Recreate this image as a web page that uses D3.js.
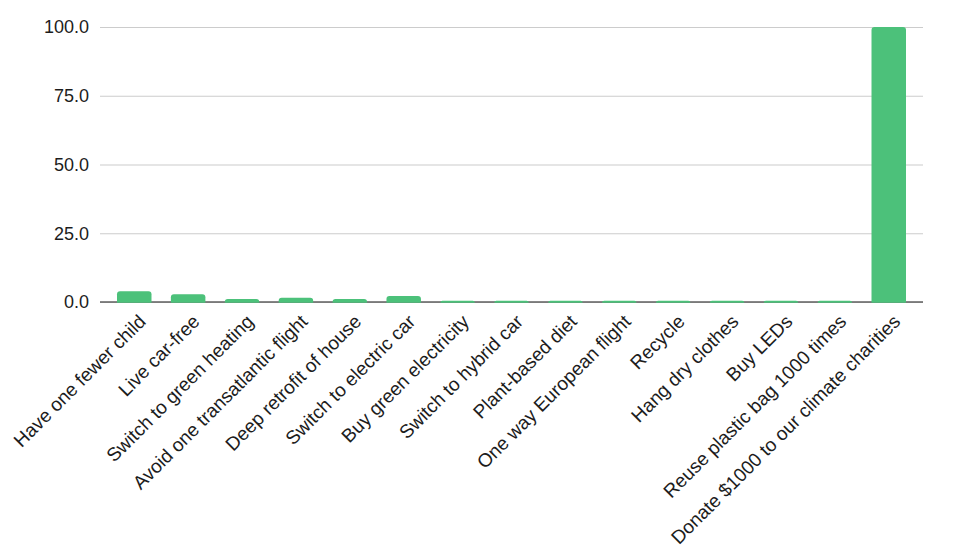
<!DOCTYPE html>
<html>
<head>
<meta charset="utf-8">
<script src="https://cdn.jsdelivr.net/npm/d3@7"></script>
<style>
  body { margin: 0; background: #fff; }
  svg text { font-family: "Liberation Sans", Arial, sans-serif; fill: #1c1c1c; }
</style>
</head>
<body>
<div id="chart"></div>
<script>
var categories = [
  "Have one fewer child",
  "Live car-free",
  "Switch to green heating",
  "Avoid one transatlantic flight",
  "Deep retrofit of house",
  "Switch to electric car",
  "Buy green electricity",
  "Switch to hybrid car",
  "Plant-based diet",
  "One way European flight",
  "Recycle",
  "Hang dry clothes",
  "Buy LEDs",
  "Reuse plastic bag 1000 times",
  "Donate $1000 to our climate charities"
]
var values = [3.6, 2.5, 0.8, 1.3, 0.8, 1.9, 0.2, 0.2, 0.2, 0.2, 0.2, 0.2, 0.2, 0.2, 99.7]
var yTicks = [0, 25, 50, 75, 100]

var width = 980, height = 551
var plot = {left: 100, right: 923, top: 27, bottom: 302}

var svg = d3.select("#chart")
    .append("svg")
    .attr("width", width)
    .attr("height", height)

var x = d3.scaleBand()
    .domain(categories)
    .range([117, 906])
    .paddingInner(0.36)
    .paddingOuter(0)

var y = d3.scaleLinear()
    .domain([0, 100])
    .range([plot.bottom, plot.top])

// gridlines + y labels
var yAxis = svg.append("g")
    .attr("transform", "translate(" + plot.left + ",0)")
    .call(d3.axisLeft(y)
      .tickValues(yTicks)
      .tickSize(-(plot.right - plot.left))
      .tickPadding(11)
      .tickFormat(d3.format(".1f")))

yAxis.select(".domain").remove()
yAxis.selectAll(".tick line").attr("stroke", "#cccccc").attr("stroke-width", 1.2)
yAxis.selectAll(".tick text").style("font-size", "18px").attr("fill", "#1c1c1c")

// baseline (bars are drawn on top of it)
svg.append("line")
    .attr("x1", plot.left)
    .attr("x2", plot.right)
    .attr("y1", y(0))
    .attr("y2", y(0))
    .attr("stroke", "#5f5f5f")
    .attr("stroke-width", 1.6)

// bars with rounded tops
function barPath(d, i) {
  var x0 = x(categories[i]), w = x.bandwidth()
  var y0 = y(0) + 0.8, y1 = y(d) - 0.8
  var r = Math.min(3, (y0 - y1))
  return "M" + x0 + "," + y0 +
    "V" + (y1 + r) +
    "Q" + x0 + "," + y1 + " " + (x0 + r) + "," + y1 +
    "H" + (x0 + w - r) +
    "Q" + (x0 + w) + "," + y1 + " " + (x0 + w) + "," + (y1 + r) +
    "V" + y0 + "Z"
}

svg.append("g")
  .selectAll("path")
  .data(values)
  .enter().append("path")
    .attr("d", barPath)
    .attr("fill", "#4cc17a")

// rotated category labels
svg.append("g")
  .selectAll("text")
  .data(categories)
  .enter().append("text")
    .attr("transform", function(d) {
      return "translate(" + (x(d) + x.bandwidth() / 2 + 8) + "," + (plot.bottom + 16) + ") rotate(-45)"
    })
    .attr("text-anchor", "end")
    .attr("dy", "0.35em")
    .style("font-size", "19px")
    .text(function(d) { return d })
</script>
</body>
</html>
